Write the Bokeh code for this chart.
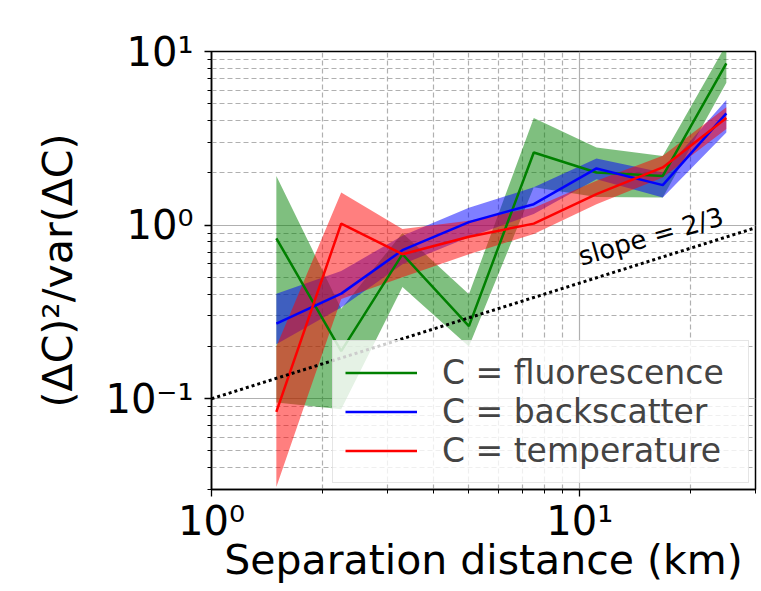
from bokeh.plotting import figure
from bokeh.models import FixedTicker, CustomJSTickFormatter, Legend, LegendItem
from bokeh.core.properties import value
from bokeh.embed import file_html
from bokeh.resources import INLINE

FONT = "DejaVu Sans"

# ---- data ----
sep_km = [1.5, 2.25, 3.3, 5.0, 7.5, 11.1, 16.8, 25.0]

fluo_mean = [0.84, 0.188, 0.68, 0.262, 2.62, 2.01, 1.92, 8.55]
fluo_lo = [0.095, 0.087, 0.44, 0.20, 1.65, 1.45, 1.44, 6.6]
fluo_hi = [1.92, 0.33, 0.90, 0.40, 4.14, 2.80, 2.50, 11.0]

back_mean = [0.271, 0.403, 0.717, 1.04, 1.32, 2.12, 1.70, 4.40]
back_lo = [0.206, 0.335, 0.596, 0.85, 1.16, 1.84, 1.44, 3.42]
back_hi = [0.403, 0.545, 0.868, 1.26, 1.65, 2.42, 2.01, 5.26]

temp_mean = [0.084, 1.02, 0.68, 0.857, 1.02, 1.51, 2.15, 4.14]
temp_lo = [0.031, 0.375, 0.50, 0.68, 0.89, 1.32, 1.88, 3.58]
temp_hi = [0.20, 1.54, 0.95, 1.06, 1.26, 1.80, 2.51, 4.77]

series_labels = ["C = fluorescence", "C = backscatter", "C = temperature"]
series_colors = ["green", "blue", "red"]

slope_x = [1.0, 30.0]
slope_y = [0.1, 0.965]
slope_text = "slope = 2/3"
slope_text_x = 15.6
slope_text_y = 0.86

x_major = [1, 10]
x_minor = [2, 3, 4, 5, 6, 7, 8, 9, 20, 30]
y_major = [0.1, 1, 10]
y_minor = [0.03, 0.04, 0.05, 0.06, 0.07, 0.08, 0.09,
           0.2, 0.3, 0.4, 0.5, 0.6, 0.7, 0.8, 0.9,
           2, 3, 4, 5, 6, 7, 8, 9]

x_label = "Separation distance (km)"
y_label = "(ΔC)²/var(ΔC)"

# ---- figure ----
p = figure(width=761, height=591, x_axis_type="log", y_axis_type="log",
           x_range=(1, 30), y_range=(0.03, 10),
           output_backend="svg", toolbar_location=None,
           min_border_left=211, min_border_right=6,
           min_border_top=51, min_border_bottom=102)

p.outline_line_color = "black"
p.outline_line_width = 1.5
p.outline_line_alpha = 1.0
p.background_fill_color = "white"
p.border_fill_color = "white"

sup_code = """
const e = Math.round(Math.log10(tick));
const sup = {'-':'\u207b','0':'\u2070','1':'\u00b9','2':'\u00b2','3':'\u00b3',
             '4':'\u2074','5':'\u2075','6':'\u2076','7':'\u2077','8':'\u2078','9':'\u2079'};
return '10' + String(e).split('').map(c => sup[c]).join('');
"""

p.xaxis.ticker = FixedTicker(ticks=x_major, minor_ticks=x_minor)
p.yaxis.ticker = FixedTicker(ticks=y_major, minor_ticks=y_minor)
p.xaxis.formatter = CustomJSTickFormatter(code=sup_code)
p.yaxis.formatter = CustomJSTickFormatter(code=sup_code)

for ax in (p.xaxis[0], p.yaxis[0]):
    ax.axis_line_width = 1.5
    ax.axis_line_color = "black"
    ax.major_tick_out = 7
    ax.major_tick_in = 0
    ax.minor_tick_out = 4
    ax.minor_tick_in = 0
    ax.major_tick_line_width = 1.3
    ax.minor_tick_line_width = 1.0
    ax.major_label_text_font = FONT
    ax.major_label_text_font_size = "40px"
    ax.major_label_text_color = "black"
    ax.axis_label_text_font = FONT
    ax.axis_label_text_font_size = "41px"
    ax.axis_label_text_font_style = "normal"
    ax.axis_label_text_color = "black"

p.xaxis.axis_label = x_label
p.yaxis.axis_label = y_label
p.xaxis.major_label_standoff = 1
p.xaxis.axis_label_standoff = -11
p.yaxis.major_label_standoff = 11
p.yaxis.axis_label_standoff = 20

p.grid.grid_line_color = "#b0b0b0"
p.grid.grid_line_width = 1.2
p.grid.minor_grid_line_color = "#b0b0b0"
p.grid.minor_grid_line_width = 1.2
p.grid.minor_grid_line_dash = "5 3"

means = [fluo_mean, back_mean, temp_mean]
los = [fluo_lo, back_lo, temp_lo]
his = [fluo_hi, back_hi, temp_hi]

for lo, hi, c in zip(los, his, series_colors):
    p.varea(x=sep_km, y1=lo, y2=hi, fill_color=c, fill_alpha=0.5)

line_renderers = []
for m, c in zip(means, series_colors):
    r = p.line(sep_km, m, line_color=c, line_width=2.5)
    line_renderers.append(r)

p.line(slope_x, slope_y, line_color="black", line_width=3, line_dash="3 3")

p.text(x=[slope_text_x], y=[slope_text_y], text=[slope_text],
       angle=16, angle_units="deg",
       text_font=value(FONT), text_font_size=value("26px"),
       text_align="center", text_baseline="middle", text_color="black")

legend = Legend(items=[LegendItem(label=l, renderers=[r])
                       for l, r in zip(series_labels, line_renderers)],
                location="bottom_right")
legend.label_text_font = FONT
legend.label_text_font_size = "33px"
legend.label_height = 33
legend.label_width = 294
legend.glyph_width = 72
legend.glyph_height = 33
legend.label_standoff = 25
legend.padding = 12
legend.spacing = 0
legend.margin = 6
legend.border_line_color = "#cccccc"
legend.border_line_width = 1.5
legend.background_fill_color = "white"
legend.background_fill_alpha = 0.8
p.add_layout(legend)

open("out.html", "w").write(file_html(p, INLINE))
